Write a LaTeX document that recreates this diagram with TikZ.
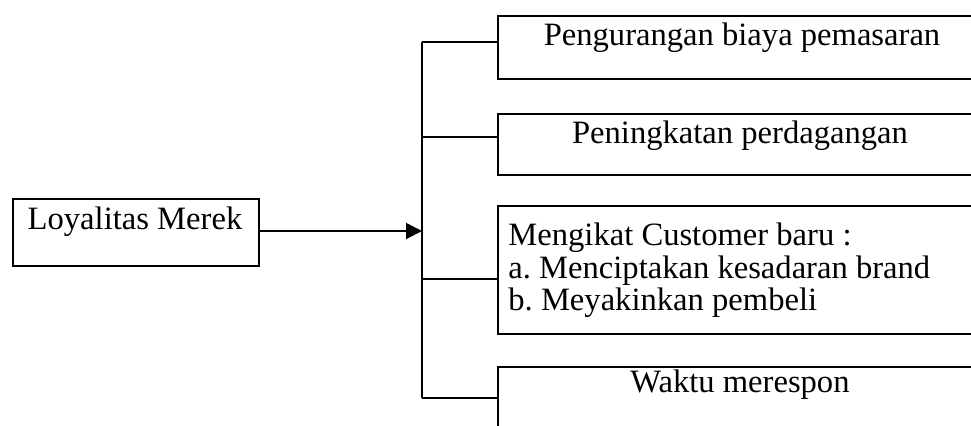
\documentclass[tikz,border=0pt]{standalone}
\usepackage{fontspec}
\setmainfont{Liberation Serif}
\frenchspacing
\usetikzlibrary{arrows.meta}
\begin{document}
\begin{tikzpicture}[x=0.5pt,y=-0.5pt,
  box/.style={draw, line width=1pt, rectangle, inner sep=0pt, anchor=north west},
  lbl/.style={anchor=base, inner sep=0pt, font=\fontsize{16.3}{19}\selectfont},
  lbll/.style={anchor=base west, inner sep=0pt, font=\fontsize{16.3}{19}\selectfont},
  conn/.style={line width=1pt}]
\useasboundingbox (0,0) rectangle (971,425);
\clip (0,0) rectangle (971,425);
% boxes
\node[box, minimum width=123pt, minimum height=33.5pt] (loy) at (12,198) {};
\node[box, minimum width=250pt, minimum height=31.5pt] (b1) at (497,15) {};
\node[box, minimum width=250pt, minimum height=30.5pt] (b2) at (497,113) {};
\node[box, minimum width=250pt, minimum height=64pt] (b3) at (497,205) {};
\node[box, minimum width=250pt, minimum height=45pt] (b4) at (497,366) {};
% labels
\node[lbl] (tloy) at (135,229) {Loyalitas Merek};
\node[lbl] (t1) at (742,45) {Pengurangan biaya pemasaran};
\node[lbl] (t2) at (740,143) {Peningkatan perdagangan};
\node[lbll] (t3a) at (508,245) {Mengikat Customer baru :};
\node[lbll] (t3b) at (508,278) {a. Menciptakan kesadaran brand};
\node[lbll] (t3c) at (508,310) {b. Meyakinkan pembeli};
\node[lbl] (t4) at (740,392) {Waktu merespon};
% spine
\coordinate (s1) at (422,42);
\coordinate (s2) at (422,137);
\coordinate (ain) at (422,231);
\coordinate (s3) at (422,279);
\coordinate (s4) at (422,398);
\draw[conn] (s1) -- (s4);
\draw[conn] (s1) -- (b1.north west |- s1);
\draw[conn] (s2) -- (b2.north west |- s2);
\draw[conn] (s3) -- (b3.north west |- s3);
\draw[conn] (s4) -- (b4.north west |- s4);
\draw[conn, -{Triangle[length=8pt,width=8pt]}] (loy.east |- ain) -- (ain);
\end{tikzpicture}
\end{document}
